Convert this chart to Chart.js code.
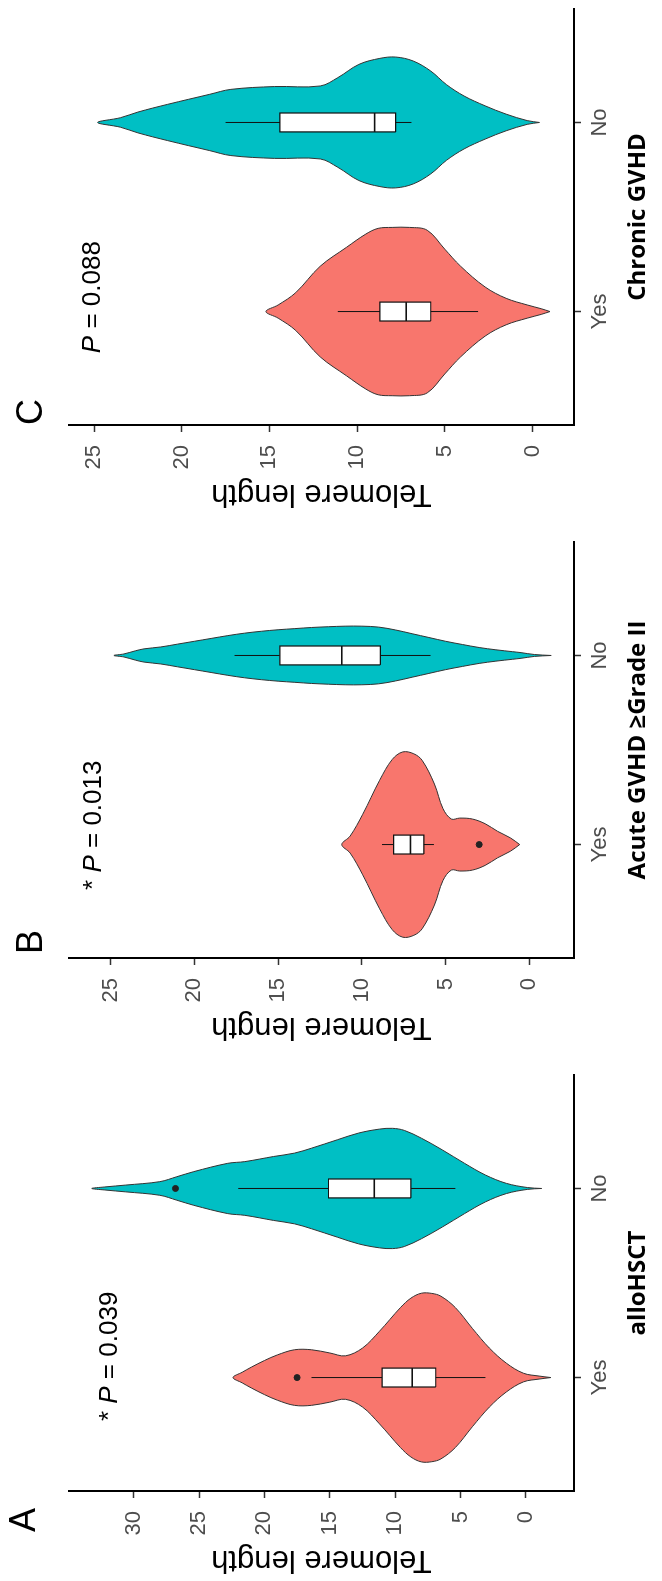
<!DOCTYPE html>
<html>
<head>
<meta charset="utf-8">
<script src="https://cdn.jsdelivr.net/npm/chart.js@4.4.1/dist/chart.umd.min.js"></script>
<style>
  html, body { margin: 0; padding: 0; background: #fff; }
  body { width: 662px; height: 1581px; overflow: hidden; position: relative; }
  /* the figure is drawn upright and turned a quarter turn, like the source */
  #wrap {
    position: absolute; left: 0; top: 0;
    width: 1599px; height: 662px;
    transform-origin: 0 0;
    transform: translateY(1581px) rotate(-90deg);
    display: flex;
  }
  canvas { display: block; }
</style>
</head>
<body>
<div id="wrap">
  <canvas id="panelA" width="533" height="662"></canvas>
  <canvas id="panelB" width="533" height="662"></canvas>
  <canvas id="panelC" width="533" height="662"></canvas>
</div>
<script>
const categories = ["Yes", "No"];
const panelLetters = ["A", "B", "C"];
const groupTitles = ["alloHSCT", "Acute GVHD \u2265Grade II", "Chronic GVHD"];
const valueTitle = "Telomere length";
const pValues = ["0.039", "0.013", "0.088"];
const pStars = [true, true, false];

const valueTicksA = [0, 5, 10, 15, 20, 25, 30];
const valueTicksB = [0, 5, 10, 15, 20, 25];
const valueTicksC = [0, 5, 10, 15, 20, 25];
const valueRangeA = [-3.67, 34.94];
const valueRangeB = [-2.66, 27.48];
const valueRangeC = [-2.37, 26.43];

// violin outlines: telomere levels and half width (in category units) at each level
const aYesLevels = [-1.9, -1, 0.2, 1.5, 2.8, 4.1, 5.4, 6.5, 7.2, 8.0, 8.8, 9.6, 11.2, 12.5, 13.8, 15, 16.4, 17.7, 19, 20, 21, 21.7, 22.4];
const aYesWidths = [0, 0.008, 0.023, 0.076, 0.156, 0.26, 0.37, 0.43, 0.445, 0.446, 0.42, 0.37, 0.245, 0.156, 0.115, 0.13, 0.147, 0.147, 0.12, 0.09, 0.055, 0.028, 0];
const aNoLevels = [-1.2, -0.1, 1.5, 3.1, 4.7, 6.4, 8.0, 9.3, 10.2, 11.2, 12.8, 14.4, 16.4, 17.7, 19.3, 21.5, 22.8, 25.4, 26.7, 28, 30.6, 32.2, 33.2];
const aNoWidths = [0, 0.005, 0.027, 0.071, 0.133, 0.204, 0.266, 0.307, 0.318, 0.314, 0.293, 0.258, 0.213, 0.187, 0.169, 0.142, 0.133, 0.089, 0.062, 0.036, 0.018, 0.008, 0];

const bYesLevels = [0.58, 1.13, 1.9, 2.64, 3.4, 4.16, 4.66, 5.16, 5.67, 6.4, 6.9, 7.56, 8.19, 8.94, 9.95, 10.7, 11.2];
const bYesWidths = [0, 0.035, 0.07, 0.11, 0.135, 0.14, 0.135, 0.19, 0.32, 0.445, 0.48, 0.49, 0.45, 0.34, 0.16, 0.045, 0];
const bNoLevels = [-1.3, -0.3, 0.5, 1, 2, 3, 4, 5, 6, 7, 8, 9, 10, 11, 12, 13, 14, 15, 16, 17, 18, 19, 20, 21, 22, 23, 23.5, 24.2, 24.8];
const bNoWidths = [0, 0.005, 0.015, 0.02, 0.03, 0.042, 0.058, 0.075, 0.095, 0.115, 0.135, 0.15, 0.155, 0.155, 0.152, 0.148, 0.142, 0.136, 0.128, 0.118, 0.105, 0.09, 0.075, 0.06, 0.045, 0.035, 0.025, 0.008, 0];

const cYesLevels = [-1.0, -0.5, 0.3, 1.5, 2.7, 4.1, 5.0, 6.0, 7.0, 8.0, 8.8, 9.5, 10.6, 12.1, 13.5, 14.5, 15.2];
const cYesWidths = [0, 0.015, 0.035, 0.07, 0.13, 0.24, 0.33, 0.43, 0.445, 0.445, 0.44, 0.41, 0.34, 0.24, 0.10, 0.035, 0];
const cNoLevels = [-0.4, 0.3, 1.5, 2.7, 3.9, 4.9, 5.8, 6.8, 7.8, 8.7, 9.9, 11.1, 12.1, 14.7, 17.2, 18.4, 20.8, 22.5, 23.5, 24.8];
const cNoWidths = [0, 0.01, 0.044, 0.088, 0.14, 0.2, 0.272, 0.325, 0.346, 0.339, 0.307, 0.237, 0.193, 0.19, 0.175, 0.149, 0.096, 0.055, 0.025, 0];

// boxes: lower whisker, Q1, median, Q3, upper whisker
const aYesBox = [3.1, 6.9, 8.7, 11.0, 16.4];
const aNoBox = [5.4, 8.8, 11.6, 15.1, 22.0];
const bYesBox = [5.7, 6.3, 7.1, 8.1, 8.8];
const bNoBox = [5.9, 8.9, 11.2, 14.9, 17.6];
const cYesBox = [3.1, 5.8, 7.2, 8.7, 11.1];
const cNoBox = [6.9, 7.8, 9.0, 14.4, 17.5];

const aYesOutliers = [17.5];
const aNoOutliers = [26.8];
const bYesOutliers = [3.0];
const bNoOutliers = [];
const cYesOutliers = [];
const cNoOutliers = [];

const groupColors = ["#F8766D", "#00BFC4"];
const boxHalf = 0.05;
const fontFamily = '"Liberation Sans", Arial, Helvetica, sans-serif';

const panels = [
  { id: "panelA", letter: panelLetters[0], title: groupTitles[0], ticks: valueTicksA, range: valueRangeA,
    violins: [[aYesLevels, aYesWidths], [aNoLevels, aNoWidths]], boxes: [aYesBox, aNoBox],
    outliers: [aYesOutliers, aNoOutliers], p: pValues[0], star: pStars[0],
    pPos: [0.77, 31.8], letterOffset: [-29, -44] },
  { id: "panelB", letter: panelLetters[1], title: groupTitles[1], ticks: valueTicksB, range: valueRangeB,
    violins: [[bYesLevels, bYesWidths], [bNoLevels, bNoWidths]], boxes: [bYesBox, bNoBox],
    outliers: [bYesOutliers, bNoOutliers], p: pValues[1], star: pStars[1],
    pPos: [0.76, 26.0], letterOffset: [16, -37] },
  { id: "panelC", letter: panelLetters[2], title: groupTitles[2], ticks: valueTicksC, range: valueRangeC,
    violins: [[cYesLevels, cYesWidths], [cNoLevels, cNoWidths]], boxes: [cYesBox, cNoBox],
    outliers: [cYesOutliers, cNoOutliers], p: pValues[2], star: pStars[2],
    pPos: [0.78, 25.06], letterOffset: [13, -37] }
];

function violinPoints(c, levels, widths) {
  const left = levels.map((v, i) => ({ x: c - widths[i], y: v }));
  const right = levels.map((v, i) => ({ x: c + widths[i], y: v })).reverse().slice(1);
  return left.concat(right);
}

function buildDatasets(p) {
  const ds = [];
  categories.forEach((cat, i) => {
    const c = i + 1;
    const [levels, widths] = p.violins[i];
    const [lo, q1, med, q3, hi] = p.boxes[i];
    ds.push({ data: violinPoints(c, levels, widths), fill: "shape", backgroundColor: groupColors[i],
      borderColor: "#333", borderWidth: 1, pointRadius: 0, tension: 0.35, order: 5 });
    ds.push({ data: [{ x: c, y: lo }, { x: c, y: hi }], borderColor: "#111", borderWidth: 1,
      pointRadius: 0, order: 4 });
    ds.push({ data: [{ x: c - boxHalf, y: q1 }, { x: c + boxHalf, y: q1 }, { x: c + boxHalf, y: q3 },
        { x: c - boxHalf, y: q3 }, { x: c - boxHalf, y: q1 }],
      fill: "shape", backgroundColor: "#fff", borderColor: "#111", borderWidth: 1.2,
      borderJoinStyle: "miter", pointRadius: 0, tension: 0, order: 3 });
    ds.push({ data: [{ x: c - boxHalf, y: med }, { x: c + boxHalf, y: med }], borderColor: "#111",
      borderWidth: 1.6, pointRadius: 0, order: 2 });
    ds.push({ data: p.outliers[i].map(v => ({ x: c, y: v })), showLine: false, pointRadius: 3,
      backgroundColor: "#222", borderColor: "#222", order: 1 });
  });
  return ds;
}

const panelText = {
  id: "panelText",
  afterDatasetsDraw(chart, args, opts) {
    const { ctx, chartArea, scales } = chart;
    ctx.save();
    ctx.fillStyle = "#000";
    ctx.textBaseline = "middle";
    ctx.textAlign = "left";
    let x = scales.x.getPixelForValue(opts.pPos[0]);
    const y = scales.y.getPixelForValue(opts.pPos[1]);
    const parts = [[opts.star ? "* " : "", "normal"], ["P", "italic"], [" = " + opts.p, "normal"]];
    for (const [t, style] of parts) {
      ctx.font = style + " 26px " + fontFamily;
      ctx.fillText(t, x, y);
      x += ctx.measureText(t).width;
    }
    ctx.font = "36px " + fontFamily;
    ctx.textAlign = "center";
    ctx.fillText(opts.letter, chartArea.left + opts.letterOffset[0], chartArea.top + opts.letterOffset[1]);
    ctx.restore();
  }
};

const axisGrid = { drawOnChartArea: false, drawTicks: true, tickLength: 7, tickColor: "#333", tickWidth: 1.5 };
const axisBorder = { display: true, color: "#000", width: 2 };

panels.forEach(p => {
  new Chart(document.getElementById(p.id), {
    type: "line",
    data: { datasets: buildDatasets(p) },
    options: {
      responsive: false,
      animation: false,
      devicePixelRatio: 1,
      layout: { padding: { top: 69, right: 27, left: 0, bottom: 0 } },
      plugins: {
        legend: { display: false },
        tooltip: { enabled: false },
        panelText: p
      },
      scales: {
        x: {
          type: "linear", position: "bottom", min: 0.4, max: 2.6,
          afterBuildTicks: s => { s.ticks = categories.map((c, i) => ({ value: i + 1 })); },
          afterFit: s => { s.height = 88; },
          ticks: { callback: v => categories[v - 1], color: "#4d4d4d", maxRotation: 0, padding: 6,
            font: { size: 22, family: fontFamily } },
          grid: axisGrid,
          border: axisBorder,
          title: { display: true, text: p.title, color: "#000", padding: { top: 0, bottom: 9 },
            font: { size: 24, weight: "bold", family: '"Open Sans", "Noto Sans", sans-serif' } }
        },
        y: {
          type: "linear", min: p.range[0], max: p.range[1],
          afterBuildTicks: s => { s.ticks = p.ticks.map(v => ({ value: v })); },
          afterFit: s => { s.width = 90; },
          ticks: { color: "#4d4d4d", padding: 13, font: { size: 22, family: fontFamily } },
          grid: axisGrid,
          border: axisBorder,
          title: { display: true, text: valueTitle, color: "#000", padding: { top: 3, bottom: 0 },
            font: { size: 31, family: fontFamily } }
        }
      }
    },
    plugins: [panelText]
  });
});
</script>
</body>
</html>
